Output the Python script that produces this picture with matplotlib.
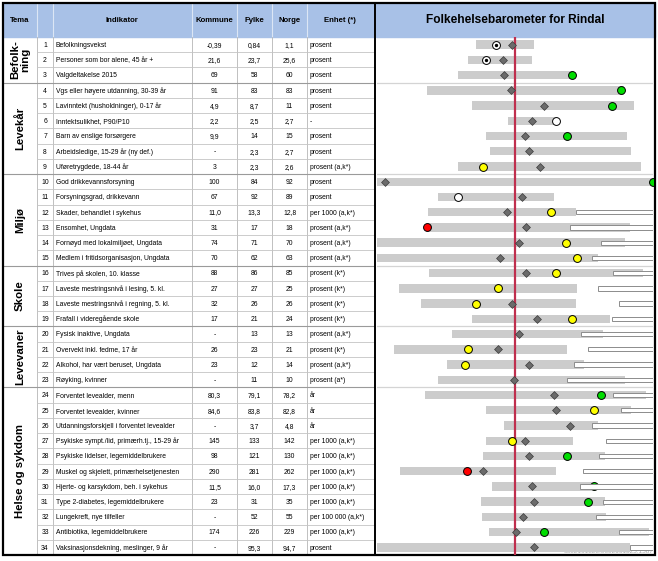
import matplotlib.pyplot as plt
import numpy as np
from matplotlib.patches import Rectangle

plt.rcParams['font.family'] = ['Liberation Sans', 'DejaVu Sans']

# tabell
tema = ['Befolk-\nning', 'Levekår', 'Miljø', 'Skole', 'Levevaner', 'Helse og sykdom']
tema_rader = [3, 6, 6, 4, 4, 11]

indikator = [
    'Befolkningsvekst', 'Personer som bor alene, 45 år +', 'Valgdeltakelse 2015',
    'Vgs eller høyere utdanning, 30-39 år', 'Lavinntekt (husholdninger), 0-17 år',
    'Inntektsulikhet, P90/P10', 'Barn av enslige forsørgere',
    'Arbeidsledige, 15-29 år (ny def.)', 'Uføretrygdede, 18-44 år',
    'God drikkevannsforsyning', 'Forsyningsgrad, drikkevann', 'Skader, behandlet i sykehus',
    'Ensomhet, Ungdata', 'Fornøyd med lokalmiljøet, Ungdata',
    'Medlem i fritidsorganisasjon, Ungdata', 'Trives på skolen, 10. klasse',
    'Laveste mestringsnivå i lesing, 5. kl.', 'Laveste mestringsnivå i regning, 5. kl.',
    'Frafall i videregående skole', 'Fysisk inaktive, Ungdata', 'Overvekt inkl. fedme, 17 år',
    'Alkohol, har vært beruset, Ungdata', 'Røyking, kvinner', 'Forventet levealder, menn',
    'Forventet levealder, kvinner', 'Utdanningsforskjell i forventet levealder',
    'Psykiske sympt./lid, primærh.tj., 15-29 år', 'Psykiske lidelser, legemiddelbrukere',
    'Muskel og skjelett, primærhelsetjenesten', 'Hjerte- og karsykdom, beh. i sykehus',
    'Type 2-diabetes, legemiddelbrukere', 'Lungekreft, nye tilfeller',
    'Antibiotika, legemiddelbrukere', 'Vaksinasjonsdekning, meslinger, 9 år']
kommune = ['-0,39', '21,6', '69', '91', '4,9', '2,2', '9,9', '-', '3', '100', '67', '11,0',
           '31', '74', '70', '88', '27', '32', '17', '-', '26', '23', '-', '80,3', '84,6',
           '-', '145', '98', '290', '11,5', '23', '-', '174', '-']
fylke = ['0,84', '23,7', '58', '83', '8,7', '2,5', '14', '2,3', '2,3', '84', '92', '13,3',
         '17', '71', '62', '86', '27', '26', '21', '13', '23', '12', '11', '79,1', '83,8',
         '3,7', '133', '121', '281', '16,0', '31', '52', '226', '95,3']
norge = ['1,1', '25,6', '60', '83', '11', '2,7', '15', '2,7', '2,6', '92', '89', '12,8',
         '18', '70', '63', '85', '25', '26', '24', '13', '21', '14', '10', '78,2', '82,8',
         '4,8', '142', '130', '262', '17,3', '35', '55', '229', '94,7']
enhet = ['prosent'] * 5 + ['-', 'prosent', 'prosent', 'prosent (a,k*)', 'prosent', 'prosent',
         'per 1000 (a,k*)'] + ['prosent (a,k*)'] * 3 + ['prosent (k*)'] * 4 + \
        ['prosent (a,k*)', 'prosent (k*)', 'prosent (a,k*)', 'prosent (a*)', 'år', 'år', 'år'] + \
        ['per 1000 (a,k*)'] * 5 + ['per 100 000 (a,k*)', 'per 1000 (a,k*)', 'prosent']

# barometer, Norge = 0, skala -1..1
spenn_fra = [-0.28, -0.34, -0.41, -0.64, -0.31, -0.05, -0.21, -0.18, -0.41, -1.0, -0.56,
             -0.63, -0.63, -1.0, -1.0, -0.62, -0.84, -0.68, -0.31, -0.46, -0.88, -0.49,
             -0.56, -0.65, -0.21, -0.08, -0.21, -0.23, -0.83, -0.17, -0.25, -0.24, -0.19, -1.0]
spenn_til = [0.14, 0.12, 0.41, 0.79, 0.86, 0.30, 0.81, 0.84, 0.91, 1.0, 0.28, 0.44, 0.83,
             0.80, 0.60, 0.93, 0.45, 0.44, 0.69, 0.64, 0.38, 0.50, 0.80, 0.95, 0.84, 0.60,
             0.42, 0.65, 0.30, 0.58, 0.65, 0.66, 0.97, 0.83]
fylke_pos = [-0.02, -0.09, -0.08, -0.03, 0.21, 0.12, 0.07, 0.10, 0.18, -0.94, 0.05, -0.06,
             0.08, 0.03, -0.11, 0.08, -0.12, -0.02, 0.16, 0.03, -0.12, 0.10, -0.01, 0.28,
             0.30, 0.40, 0.07, 0.10, -0.23, 0.12, 0.14, 0.06, 0.01, 0.14]
kommune_pos = [-0.14, -0.21, 0.41, 0.77, 0.70, 0.30, 0.38, np.nan, -0.23, 1.0, -0.41, 0.26,
               -0.64, 0.37, 0.45, 0.30, -0.12, -0.28, 0.41, np.nan, -0.34, -0.36, np.nan,
               0.62, 0.57, np.nan, -0.02, 0.38, -0.35, 0.57, 0.53, np.nan, 0.21, np.nan]
kommune_farge = ['prikk', 'prikk', 'grønn', 'grønn', 'grønn', 'hvit', 'grønn', '', 'gul',
                 'grønn', 'hvit', 'gul', 'rød', 'gul', 'gul', 'gul', 'gul', 'gul', 'gul', '',
                 'gul', 'gul', '', 'grønn', 'gul', '', 'gul', 'grønn', 'rød', 'grønn', 'grønn',
                 '', 'grønn', '']
hvit_fra = [np.nan] * 11 + [0.44, 0.40, 0.62, 0.56, 0.71, 0.60, 0.75, 0.70, 0.48, 0.53,
                            0.43, 0.38, 0.71, 0.77, 0.56, 0.66, 0.61, 0.49, 0.47, 0.64,
                            0.59, 0.75, 0.83]

farger = {'grønn': '#00dd00', 'gul': '#ffff00', 'rød': '#ff0000', 'hvit': 'white', 'prikk': 'white'}

W, H = 658, 561
top, rh = 37, (555 - 37) / 34
kant = [3, 37, 53, 192, 237, 272, 307, 374]
blaa = '#a8c1e7'
tekst = '#000000'
fs = 4.9

fig = plt.figure(figsize=(W / 100, H / 100), dpi=100)
ax = fig.add_axes([0, 0, 1, 1])
ax.set_xlim(0, W)
ax.set_ylim(H, 0)
ax.axis('off')

# header
ax.add_patch(Rectangle((3, 3), 371, 34, color=blaa, zorder=0))
ax.add_patch(Rectangle((376, 3), 279, 34, color=blaa, zorder=0))
for x in kant[1:-1]:
    ax.plot([x, x], [3, top], color='#dce6f5', lw=0.8)
    ax.plot([x, x], [top, 555], color='#b5b5b5', lw=0.6)
hdr = [('Tema', 20), ('', 45), ('Indikator', 122), ('Kommune', 214.5), ('Fylke', 254.5),
       ('Norge', 289.5), ('Enhet (*)', 340)]
for t, x in hdr:
    ax.text(x, 20, t, ha='center', va='center', fontsize=5.6, fontweight='bold', color=tekst)
ax.text(515, 20, 'Folkehelsebarometer for Rindal', ha='center', va='center',
        fontsize=8.6, fontweight='bold', color=tekst)

# rader
for i in range(34):
    y = top + (i + 0.5) * rh + 0.8
    ax.text(45, y, str(i + 1), ha='center', va='center', fontsize=fs, color=tekst)
    ax.text(56, y, indikator[i], ha='left', va='center', fontsize=fs, color=tekst)
    ax.text(214.5, y, kommune[i], ha='center', va='center', fontsize=fs, color=tekst)
    ax.text(254.5, y, fylke[i], ha='center', va='center', fontsize=fs, color=tekst)
    ax.text(289.5, y, norge[i], ha='center', va='center', fontsize=fs, color=tekst)
    ax.text(310, y, enhet[i], ha='left', va='center', fontsize=fs, color=tekst)
    if i > 0:
        ax.plot([37, 374], [top + i * rh] * 2, color='#c4c4c4', lw=0.6)

# tema-kolonne
start = 0
grenser = []
for navn, n in zip(tema, tema_rader):
    yc = top + (start + n / 2) * rh
    ax.text(20, yc, navn, rotation=90, ha='center', va='center', fontsize=8.2,
            fontweight='bold', color=tekst, linespacing=0.95)
    start += n
    if start < 34:
        grenser.append(start)
        ax.plot([3, 374], [top + start * rh] * 2, color='#9a9a9a', lw=0.8)

# ramme
ax.add_patch(Rectangle((3, 3), 652, 552, fill=False, edgecolor='black', lw=1.6, zorder=10))
ax.plot([375, 375], [3, 555], color='black', lw=1.4, zorder=10)
ax.text(653, 554, '0602161525.0602161525.1587', ha='right', va='bottom', fontsize=4.6,
        color='#aaaaaa', zorder=11)

# barometer
bx = fig.add_axes([377 / W, 1 - 555 / H, 276 / W, (555 - top) / H])
bx.set_xlim(-1, 1)
bx.set_ylim(34.5, 0.5)
bx.axis('off')
rad = np.arange(1, 35)
for g in grenser:
    bx.axhline(g + 0.5, color='#d4d4d4', lw=0.9, zorder=0)
bx.barh(rad, np.array(spenn_til) - np.array(spenn_fra), left=spenn_fra, height=0.55,
        color='#cccccc', zorder=1)
bx.axvline(0, color='#bf2f4e', lw=1.6, zorder=2)
bx.scatter(fylke_pos, rad, marker='D', s=16, color='#6b6b6b', edgecolor='#3c3c3c',
           linewidths=0.5, zorder=3)
for navn, farge in farger.items():
    m = np.array([f == navn for f in kommune_farge])
    bx.scatter(np.array(kommune_pos)[m], rad[m], s=32, color=farge, edgecolor='black',
               linewidths=0.7, zorder=4)
m = np.array([f == 'prikk' for f in kommune_farge])
bx.scatter(np.array(kommune_pos)[m], rad[m], s=2, color='black', zorder=5)
hf = np.array(hvit_fra)
bx.barh(rad, 1.3 - hf, left=hf, height=0.28, color='white', edgecolor='#8c8c8c',
        linewidth=0.7, zorder=6)

fig.savefig('out.png', dpi=100)
